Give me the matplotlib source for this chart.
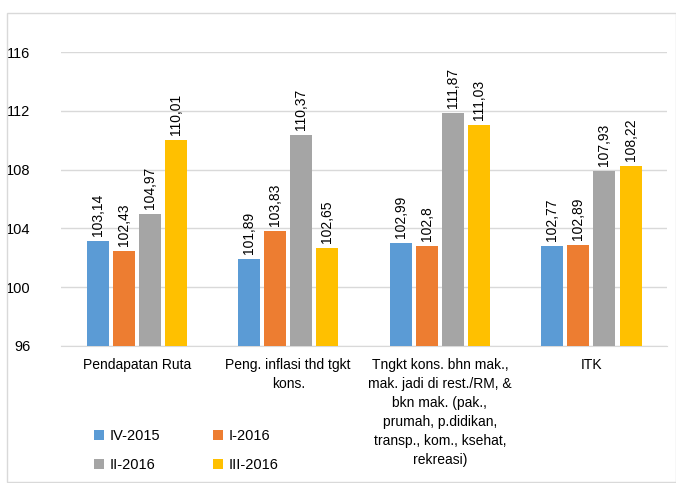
import matplotlib
matplotlib.use('Agg')
import matplotlib.pyplot as plt
import numpy as np
from matplotlib.patches import Rectangle, Patch

categories = ['Pendapatan Ruta',
              'Peng. inflasi thd tgkt\nkons.',
              'Tngkt kons. bhn mak.,\nmak. jadi di rest./RM, &\nbkn mak. (pak.,\nprumah, p.didikan,\ntransp., kom., ksehat,\nrekreasi)',
              'ITK']
series = ['IV-2015', 'I-2016', 'II-2016', 'III-2016']
iv_2015 = [103.14, 101.89, 102.99, 102.77]
i_2016 = [102.43, 103.83, 102.80, 102.89]
ii_2016 = [104.97, 110.37, 111.87, 107.93]
iii_2016 = [110.01, 102.65, 111.03, 108.22]
colors = ['#5B9BD5', '#ED7D31', '#A5A5A5', '#FFC000']
yticks = [96, 100, 104, 108, 112, 116]

plt.rcParams['font.family'] = ['Liberation Sans', 'DejaVu Sans']

fig = plt.figure(figsize=(6.76, 4.83), dpi=100)
ax = fig.add_axes([0.090, 0.284, 0.897, 0.608])

# outer frame
fig.patches.append(Rectangle((0.010, 0.002), 0.99, 0.972, transform=fig.transFigure,
                             fill=False, edgecolor='#D9D9D9', linewidth=1.0))

x = np.arange(len(categories))
step = 0.172
width = 0.145
data = [iv_2015, i_2016, ii_2016, iii_2016]
for i, (vals, col) in enumerate(zip(data, colors)):
    pos = x + (i - 1.5) * step
    ax.bar(pos, [v - 96 for v in vals], width, bottom=96, color=col, zorder=3)
    for p, v in zip(pos, vals):
        ax.text(p, v + 0.35, f'{v:.2f}'.rstrip('0').replace('.', ','),
                rotation=90, ha='center', va='bottom', fontsize=10, color='#000000')

ax.set_ylim(96, 116)
ax.set_xlim(-0.5, len(categories) - 0.5)
ax.set_yticks(yticks)
ax.set_yticklabels([str(t) for t in yticks], fontsize=10.5)
ax.yaxis.grid(True, color='#D9D9D9', linewidth=1.0, zorder=0)
ax.set_axisbelow(True)
ax.tick_params(axis='y', length=0, pad=22)
ax.tick_params(axis='x', length=0, pad=9)
ax.set_xticks(x)
ax.set_xticklabels(categories, fontsize=10, linespacing=1.45, va='top')
for s in ['top', 'right', 'left']:
    ax.spines[s].set_visible(False)
ax.spines['bottom'].set_color('#D9D9D9')
ax.spines['bottom'].set_zorder(1)

# row-major legend order: IV-2015, I-2016 / II-2016, III-2016
order = [0, 2, 1, 3]
handles = [Patch(facecolor=colors[k], edgecolor='none') for k in order]
labels = [series[k] for k in order]
fig.legend(handles, labels, ncol=2, loc='upper left', bbox_to_anchor=(0.13, 0.123),
           frameon=False, fontsize=10.5, handlelength=0.7, handleheight=0.7,
           handletextpad=0.4, columnspacing=3.6, labelspacing=1.0, borderaxespad=0)

fig.savefig('out.png', dpi=100)
